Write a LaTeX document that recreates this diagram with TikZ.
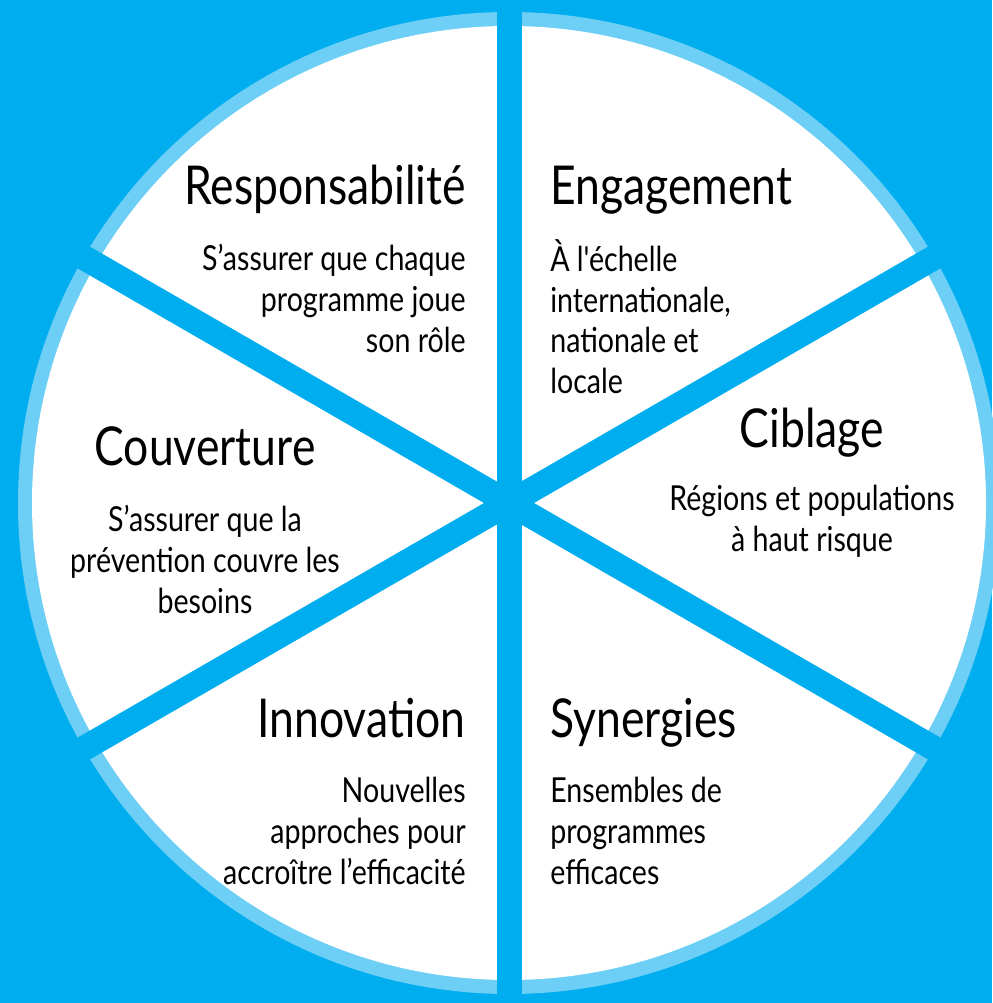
\documentclass[tikz,border=0pt]{standalone}
\usepackage{fontspec}
\setmainfont{Lato}[FakeStretch=0.83,Ligatures=TeXOff]
\usetikzlibrary{positioning}
\definecolor{fondbleu}{RGB}{0,174,239}
\definecolor{anneau}{RGB}{109,207,246}

\begin{document}
\begin{tikzpicture}[x=0.02cm,y=-0.02cm,
  titre/.style={font=\fontsize{30.5}{32}\selectfont,inner sep=0pt},
  texte/.style={font=\fontsize{19.6}{23.2}\selectfont,inner sep=0pt},
  rayon/.style={draw=fondbleu,line width=0.5cm}]

 % fond et roue
 \fill[fondbleu] (0,0) rectangle (992,1003);
 \useasboundingbox (0,0) rectangle (992,1003);
 \coordinate (ctr) at (509,503);
 \fill[anneau] (ctr) circle (491);
 \fill[white] (ctr) circle (477);
 \foreach \a in {30,90,...,330}
   \draw[rayon] (ctr) -- ++(\a:520);

 % secteurs
 \node[titre,anchor=base east] (resp) at (466,205) {Responsabilité};
 \node[texte,anchor=north east,align=right] (respT) at (466,244) {S’assurer que chaque\\programme joue\\son rôle};

 \node[titre,anchor=base west] (eng) at (550,205) {Engagement};
 \node[texte,anchor=north west,align=left] (engT) at (550,239) {À l'échelle\\internationale,\\nationale et\\locale};

 \node[titre,anchor=base] (cib) at (812,447) {Ciblage};
 \node[texte,anchor=north,align=center] (cibT) at (812,485) {Régions et populations\\à haut risque};

 \node[titre,anchor=base] (couv) at (205,465) {Couverture};
 \node[texte,anchor=north,align=center] (couvT) at (205,505) {S’assurer que la\\prévention couvre les\\besoins};

 \node[titre,anchor=base east] (innov) at (466,737) {Innovation};
 \node[texte,anchor=north east,align=right] (innovT) at (466,777) {Nouvelles\\approches pour\\accroître l’efficacité};

 \node[titre,anchor=base west] (syn) at (550,737) {Synergies};
 \node[texte,anchor=north west,align=left] (synT) at (550,777) {Ensembles de\\programmes\\efficaces};

\end{tikzpicture}
\end{document}
